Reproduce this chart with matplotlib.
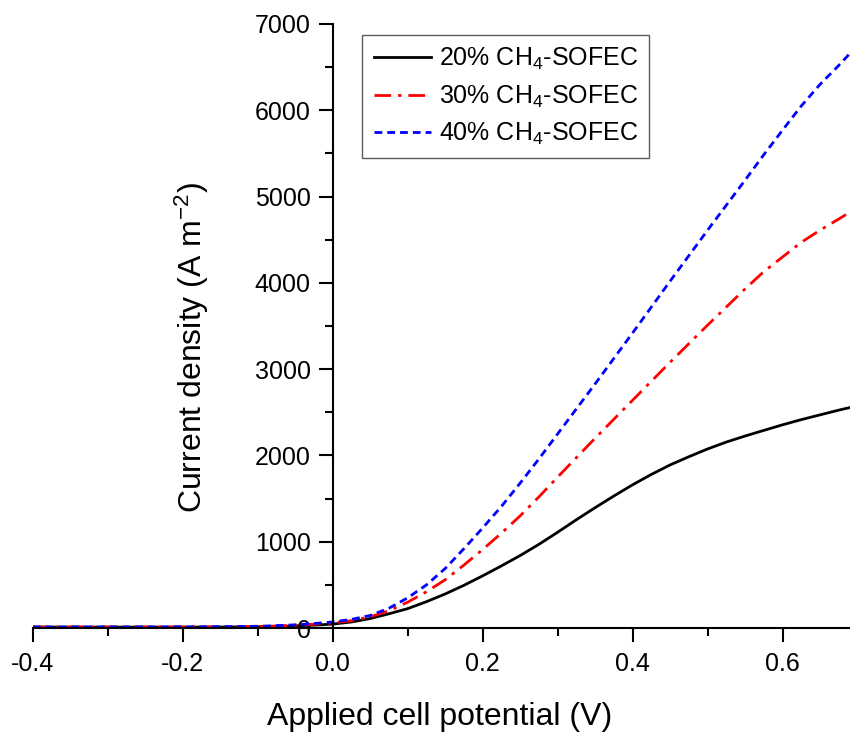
import numpy as np
import matplotlib
matplotlib.use('Agg')
import matplotlib.pyplot as plt
from matplotlib.ticker import MultipleLocator, FormatStrFormatter

plt.rcParams['font.family'] = ['Liberation Sans', 'DejaVu Sans']
plt.rcParams['mathtext.fontset'] = 'custom'
plt.rcParams['mathtext.rm'] = 'Liberation Sans'
plt.rcParams['mathtext.it'] = 'Liberation Sans:italic'
plt.rcParams['mathtext.bf'] = 'Liberation Sans:bold'

# applied cell potential (V)
potential = [-0.40, -0.30, -0.20, -0.15, -0.10, -0.075, -0.05, -0.025,
             0.000, 0.025, 0.050, 0.075, 0.100, 0.125, 0.150, 0.175,
             0.200, 0.225, 0.250, 0.275, 0.300, 0.325, 0.350, 0.375,
             0.400, 0.425, 0.450, 0.475, 0.500, 0.525, 0.550, 0.575,
             0.600, 0.625, 0.650, 0.675, 0.690]

# current density (A m^-2) for each methane fraction
j_20 = [10, 10, 10, 11, 14, 18, 24, 33,
        45, 70, 110, 165, 225, 305, 395, 495,
        605, 720, 840, 970, 1110, 1255, 1395, 1530,
        1660, 1780, 1890, 1985, 2075, 2155, 2225, 2290,
        2355, 2415, 2470, 2525, 2555]
j_30 = [12, 12, 12, 13, 18, 23, 32, 44,
        60, 85, 130, 200, 300, 420, 560, 730,
        910, 1100, 1300, 1520, 1750, 1975, 2200, 2420,
        2640, 2860, 3080, 3295, 3510, 3720, 3930, 4130,
        4300, 4470, 4610, 4740, 4820]
j_40 = [12, 12, 13, 15, 20, 27, 37, 52,
        70, 100, 145, 230, 350, 500, 690, 920,
        1160, 1410, 1680, 1960, 2250, 2540, 2830, 3125,
        3420, 3720, 4020, 4315, 4610, 4900, 5190, 5485,
        5770, 6050, 6300, 6520, 6660]

labels = [r'20% CH$_4$-SOFEC', r'30% CH$_4$-SOFEC', r'40% CH$_4$-SOFEC']

fig = plt.figure(figsize=(8.5, 7.32), dpi=100)
ax = fig.add_axes([33/850, 104/732, 817/850, 604/732])

ax.plot(potential, j_20, color='black', lw=2.0, ls='-', label=labels[0])
ax.plot(potential, j_30, color='red', lw=2.0, ls=(0, (6, 2.5, 1.2, 2.5)), label=labels[1])
ax.plot(potential, j_40, color='blue', lw=2.0, ls=(0, (2.8, 1.8)), label=labels[2])

ax.set_xlim(-0.4, 0.69)
ax.set_ylim(0, 7000)

ax.spines['left'].set_position(('data', 0))
ax.spines['top'].set_visible(False)
ax.spines['right'].set_visible(False)
for s in ('left', 'bottom'):
    ax.spines[s].set_linewidth(1.5)

ax.xaxis.set_major_locator(MultipleLocator(0.2))
ax.xaxis.set_minor_locator(MultipleLocator(0.1))
ax.yaxis.set_major_locator(MultipleLocator(1000))
ax.yaxis.set_minor_locator(MultipleLocator(500))
ax.xaxis.set_major_formatter(FormatStrFormatter('%.1f'))

ax.tick_params(which='major', direction='out', length=10, width=1.5, labelsize=18)
ax.tick_params(axis='x', which='major', pad=7)
ax.tick_params(axis='y', which='major', pad=6)
ax.tick_params(which='minor', direction='out', length=5.5, width=1.5)

ax.set_xlabel('Applied cell potential (V)', fontsize=23)
ax.set_ylabel(r'Current density (A m$^{\mathregular{-2}}$)', fontsize=23)
ax.yaxis.set_label_coords(0.218, 0.465)
ax.xaxis.set_label_coords(0.498, -0.122)

leg = ax.legend(loc='upper left', bbox_to_anchor=(0.403, 0.982), borderaxespad=0,
                fontsize=18, frameon=True, fancybox=False, edgecolor='#333333',
                handlelength=2.3, handletextpad=0.3, borderpad=0.45, labelspacing=0.45)
leg.get_frame().set_linewidth(1.0)

fig.savefig('out.png', dpi=100)
